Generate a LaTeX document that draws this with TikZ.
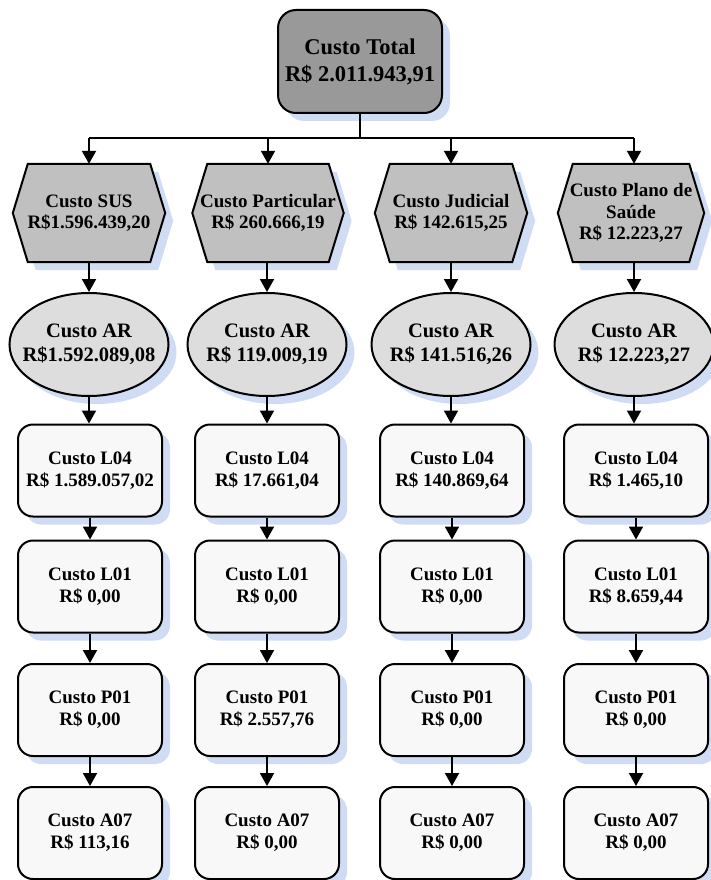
\documentclass[tikz,border=0pt]{standalone}
\usepackage{fontspec}
\setmainfont{Liberation Serif}
\usetikzlibrary{arrows.meta,shadows,shapes.geometric}
\definecolor{topgray}{RGB}{153,153,153}
\definecolor{hexgray}{RGB}{192,192,192}
\definecolor{ellgray}{RGB}{221,221,221}
\definecolor{boxfill}{RGB}{248,248,248}
\definecolor{shadowc}{RGB}{208,220,244}
\pgfdeclarelayer{background}
\pgfsetlayers{background,main}
\newcommand\elltext[1]{\makebox[0pt]{\begin{tabular}{@{}c@{}}#1\end{tabular}}}
\tikzset{
  base/.style={draw=black, line width=2pt, align=center, text=black, inner sep=0pt,
    font=\bfseries\fontsize{19}{22}\selectfont},
  shad/.style={drop shadow={shadow xshift=8pt, shadow yshift=-8pt, fill=shadowc, opacity=1}},
  topbox/.style={base, shad, rounded corners=18pt, fill=topgray, minimum width=164pt,
    minimum height=103pt, font=\bfseries\fontsize{22.5}{27}\selectfont},
  hexn/.style={align=center, text=black, inner sep=0pt, minimum height=98pt,
    font=\bfseries\fontsize{19}{21.5}\selectfont},
  hexshape/.style={draw=black, line width=2pt, fill=hexgray, line join=miter},
  ell/.style={base, shad, ellipse, fill=ellgray, minimum width=159pt, minimum height=103pt,
    font=\bfseries\fontsize{20.5}{24}\selectfont},
  cbox/.style={base, shad, rounded corners=15pt, fill=boxfill, minimum width=144pt,
    minimum height=92pt},
  arr/.style={line width=2pt, -{Triangle[width=14pt,length=13pt]}},
  lnk/.style={line width=2pt},
}
\begin{document}
\begin{tikzpicture}[x=1pt,y=-1pt]
\useasboundingbox (0,0) rectangle (711,880);

% top
\node[topbox] (top) at (360,61.5) {Custo Total\\R\$ 2.011.943,91};
\coordinate (bus) at (0,138);

% hexagon text nodes
\node[hexn, minimum width=152pt] (h1) at (89,213) {Custo SUS\\R\$1.596.439,20};
\node[hexn, minimum width=151pt] (h2) at (268,213) {Custo Particular\\R\$ 260.666,19};
\node[hexn, minimum width=152pt] (h3) at (451,213) {Custo Judicial\\R\$ 142.615,25};
\node[hexn, minimum width=146pt] (h4) at (631,213) {Custo Plano de\\Saúde\\R\$ 12.223,27};

\begin{pgfonlayer}{background}
\foreach \n in {h1,h2,h3,h4}{
  \fill[shadowc] ([xshift=23pt,yshift=-8pt]\n.north west) -- ([xshift=-7pt,yshift=-8pt]\n.north east)
    -- ([xshift=8pt,yshift=-8pt]\n.east) -- ([xshift=-7pt,yshift=-8pt]\n.south east)
    -- ([xshift=23pt,yshift=-8pt]\n.south west) -- ([xshift=8pt,yshift=-8pt]\n.west) -- cycle;
  \draw[hexshape] ([xshift=15pt]\n.north west) -- ([xshift=-15pt]\n.north east)
    -- (\n.east) -- ([xshift=-15pt]\n.south east)
    -- ([xshift=15pt]\n.south west) -- (\n.west) -- cycle;
}
\end{pgfonlayer}

% ellipses
\node[ell] (e1) at (89,344.5) {\elltext{Custo AR\\R\$1.592.089,08}};
\node[ell] (e2) at (267,344.5) {\elltext{Custo AR\\R\$ 119.009,19}};
\node[ell] (e3) at (451,344.5) {\elltext{Custo AR\\R\$ 141.516,26}};
\node[ell] (e4) at (634,344.5) {\elltext{Custo AR\\R\$ 12.223,27}};

% L04
\node[cbox] (a1) at (90,470.5) {Custo L04\\R\$ 1.589.057,02};
\node[cbox] (a2) at (267,470.5) {Custo L04\\R\$ 17.661,04};
\node[cbox] (a3) at (452,470.5) {Custo L04\\R\$ 140.869,64};
\node[cbox] (a4) at (636,470.5) {Custo L04\\R\$ 1.465,10};
% L01
\node[cbox] (b1) at (90,586.5) {Custo L01\\R\$ 0,00};
\node[cbox] (b2) at (267,586.5) {Custo L01\\R\$ 0,00};
\node[cbox] (b3) at (452,586.5) {Custo L01\\R\$ 0,00};
\node[cbox] (b4) at (636,586.5) {Custo L01\\R\$ 8.659,44};
% P01
\node[cbox] (c1) at (90,710) {Custo P01\\R\$ 0,00};
\node[cbox] (c2) at (267,710) {Custo P01\\R\$ 2.557,76};
\node[cbox] (c3) at (452,710) {Custo P01\\R\$ 0,00};
\node[cbox] (c4) at (636,710) {Custo P01\\R\$ 0,00};
% A07
\node[cbox] (d1) at (90,833) {Custo A07\\R\$ 113,16};
\node[cbox] (d2) at (267,833) {Custo A07\\R\$ 0,00};
\node[cbox] (d3) at (452,833) {Custo A07\\R\$ 0,00};
\node[cbox] (d4) at (636,833) {Custo A07\\R\$ 0,00};

% connectors
\draw[lnk] (top.south) -- (top.south |- bus);
\draw[lnk] (h1.north |- bus) -- (e4.north |- bus);
\draw[arr] (h1.north |- bus) -- (h1.north);
\draw[arr] (h2.north |- bus) -- (h2.north);
\draw[arr] (h3.north |- bus) -- (h3.north);
\draw[arr] (e4.north |- bus) -- (e4.north |- h4.north);
\foreach \i in {1,2,3,4}{
  \draw[arr] (e\i.north |- h\i.south) -- (e\i.north);
  \draw[arr] (e\i.south) -- (e\i.south |- a\i.north);
  \draw[arr] (a\i.south) -- (b\i.north);
  \draw[arr] (b\i.south) -- (c\i.north);
  \draw[arr] (c\i.south) -- (d\i.north);
}
\end{tikzpicture}
\end{document}
